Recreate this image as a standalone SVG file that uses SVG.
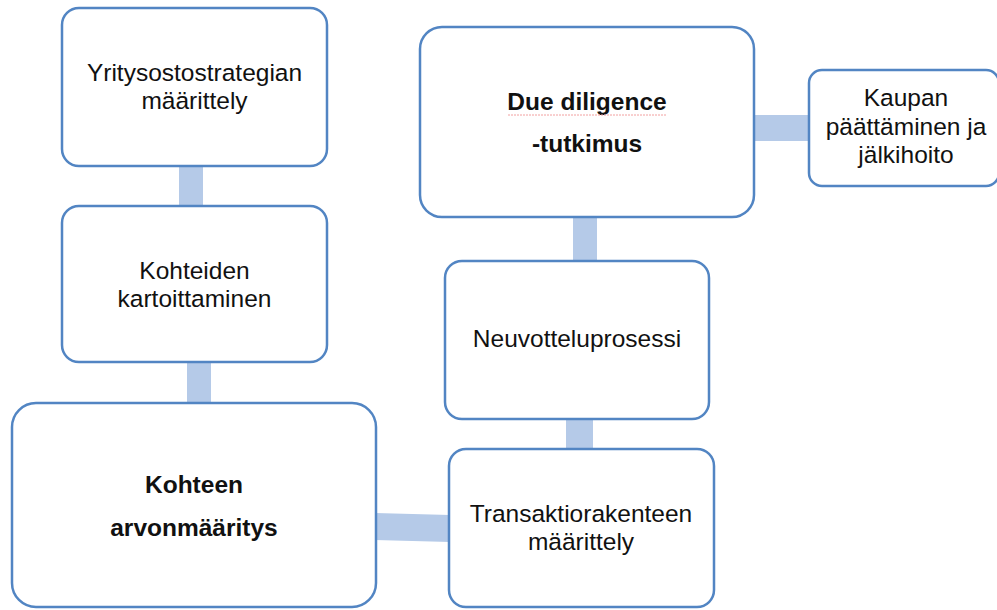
<svg xmlns="http://www.w3.org/2000/svg" width="997" height="610" viewBox="0 0 997 610">
<style>
.box{fill:#ffffff;stroke:#5285c3;stroke-width:2.5}
.con{fill:#b5cae8;stroke:none}
.t{font-family:"Liberation Sans",Arial,sans-serif;font-size:24.5px;fill:#111111;text-anchor:middle}
.b{font-weight:bold;font-size:24.5px}
</style>
<rect width="997" height="610" fill="#ffffff"/>
<g id="connectors">
<rect class="con" x="179" y="165" width="24" height="42"/>
<rect class="con" x="187" y="361" width="24" height="43"/>
<polygon class="con" points="375,513 450,515 450,542 375,540"/>
<rect class="con" x="566" y="418" width="27" height="32"/>
<rect class="con" x="573" y="216" width="24" height="46"/>
<rect class="con" x="753" y="115" width="57" height="26"/>
</g>
<g id="n1">
<rect class="box" x="62" y="8" width="265" height="158" rx="17"/>
<text class="t" x="194.5" y="81">Yritysostostrategian</text>
<text class="t" x="194.5" y="109">määrittely</text>
</g>
<g id="n2">
<rect class="box" x="62" y="206" width="265" height="156" rx="17"/>
<text class="t" x="194.5" y="279">Kohteiden</text>
<text class="t" x="194.5" y="307">kartoittaminen</text>
</g>
<g id="n3">
<rect class="box" x="12" y="403" width="364" height="204" rx="24"/>
<text class="t b" x="194" y="493">Kohteen</text>
<text class="t b" x="194" y="536">arvonmääritys</text>
</g>
<g id="n4">
<rect class="box" x="449" y="449" width="265" height="158" rx="17"/>
<text class="t" x="581" y="522">Transaktiorakenteen</text>
<text class="t" x="581" y="550">määrittely</text>
</g>
<g id="n5">
<rect class="box" x="445" y="261" width="264" height="158" rx="17"/>
<text class="t" x="577" y="347">Neuvotteluprosessi</text>
</g>
<g id="n6">
<rect class="box" x="420" y="27" width="334" height="190" rx="22"/>
<text class="t b" x="587" y="110">Due diligence</text>
<line x1="508" y1="115" x2="667" y2="115" stroke="#f2a0a0" stroke-width="1" stroke-dasharray="2,1"/>
<text class="t b" x="587" y="152">-tutkimus</text>
</g>
<g id="n7">
<rect class="box" x="809" y="70" width="190" height="116" rx="13"/>
<text class="t" x="906" y="106">Kaupan</text>
<text class="t" x="906" y="135">päättäminen ja</text>
<text class="t" x="906" y="163">jälkihoito</text>
</g>
</svg>
